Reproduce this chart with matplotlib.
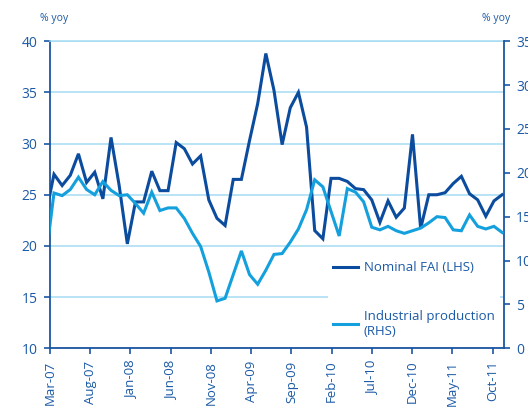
import numpy as np
import matplotlib
matplotlib.use("Agg")
import matplotlib.pyplot as plt
from matplotlib.lines import Line2D

plt.rcParams['font.family'] = ['Open Sans', 'DejaVu Sans']

# ---- data (Feb-07 .. Oct-11, monthly; Feb-07 lies just left of the axis) ----
fai = [23.1,
       27.0, 25.9, 26.9, 29.0, 26.2, 27.2, 24.6, 30.6, 25.9, 20.2,
       24.3, 24.3, 27.3, 25.4, 25.4, 30.1, 29.5, 28.0, 28.8, 24.5,
       22.7, 22.0, 26.5, 26.5, 30.3, 33.9, 38.8, 35.2, 29.9, 33.5,
       35.0, 31.6, 21.5, 20.7, 26.6, 26.6, 26.3, 25.6, 25.5, 24.5,
       22.3, 24.4, 22.8, 23.7, 30.9, 21.7, 25.0, 25.0, 25.2, 26.1,
       26.8, 25.1, 24.5, 22.9, 24.4, 25.0]
ip = [10.3,
      17.7, 17.4, 18.1, 19.5, 18.1, 17.5, 19.0, 18.0, 17.4, 17.5,
      16.5, 15.4, 17.8, 15.7, 16.0, 16.0, 14.8, 13.1, 11.6, 8.7,
      5.4, 5.7, 8.4, 11.1, 8.4, 7.3, 8.9, 10.7, 10.8, 12.1,
      13.6, 15.8, 19.2, 18.4, 15.6, 12.8, 18.2, 17.8, 16.7, 13.8,
      13.5, 13.9, 13.4, 13.1, 13.4, 13.7, 14.3, 15.0, 14.9, 13.5,
      13.4, 15.2, 13.9, 13.6, 13.9, 13.2]
tick_labels = ["Mar-07", "Aug-07", "Jan-08", "Jun-08", "Nov-08", "Apr-09",
               "Sep-09", "Feb-10", "Jul-10", "Dec-10", "May-11", "Oct-11"]
left_ticks = [10, 15, 20, 25, 30, 35, 40]
right_ticks = [0, 5, 10, 15, 20, 25, 30, 35]
fai_label = "Nominal FAI (LHS)"
ip_label = "Industrial production\n(RHS)"

# ---- styles ----
C_TEXT = '#1b5aa6'
C_AXIS = '#1b56a3'
C_DARK = '#0b4c9e'
C_LIGHT = '#14a0dd'
C_GRID = '#a6dbf2'
FS = 9.5

W, H = 528, 412
fig = plt.figure(figsize=(W / 100, H / 100), dpi=100)
x0, x1, ytop, ybot = 50, 503.5, 41.2, 348.3
ax = fig.add_axes([x0 / W, 1 - ybot / H, (x1 - x0) / W, (ybot - ytop) / H])
ax2 = ax.twinx()
axt = ax.twiny()

x = np.arange(len(fai)) - 1  # month index, Mar-07 = 0

ax.plot(x, fai, color=C_DARK, lw=2.2, solid_joinstyle='miter', zorder=3)
ax2.plot(x, ip, color=C_LIGHT, lw=2.2, solid_joinstyle='miter', zorder=3)

ax.set_xlim(-0.49, 55.17)
ax.set_ylim(10, 40)
ax2.set_ylim(0, 35)
ax.set_yticks(left_ticks)
ax2.set_yticks(right_ticks)

# category tick axis
axt.set_xlim(0.087, 56.35)
axt.set_xticks(np.arange(len(tick_labels)) * 5)
axt.set_xticklabels(tick_labels, rotation=90)
axt.xaxis.set_ticks_position('bottom')
axt.xaxis.set_label_position('bottom')
ax.set_xticks([])

ax.yaxis.grid(True, color=C_GRID, lw=1.1)
ax.set_axisbelow(True)

for a in (ax, ax2, axt):
    for s in a.spines.values():
        s.set_visible(False)
ax.spines['left'].set_visible(True)
ax.spines['left'].set_color(C_AXIS)
ax.spines['left'].set_linewidth(1.3)
ax.spines['bottom'].set_visible(True)
ax.spines['bottom'].set_color(C_AXIS)
ax.spines['bottom'].set_linewidth(1.3)
ax.spines['top'].set_visible(True)
ax.spines['top'].set_color(C_GRID)
ax.spines['top'].set_linewidth(1.1)
ax2.spines['right'].set_visible(True)
ax2.spines['right'].set_color(C_AXIS)
ax2.spines['right'].set_linewidth(1.3)

ax.tick_params(axis='y', direction='out', length=4, width=1.2, color=C_AXIS,
               labelcolor=C_TEXT, labelsize=10, pad=5)
ax2.tick_params(axis='y', direction='out', length=4, width=1.2, color=C_AXIS,
                labelcolor=C_TEXT, labelsize=10, pad=5)
axt.tick_params(axis='x', direction='out', length=4, width=1.2, color=C_AXIS,
                labelcolor=C_TEXT, labelsize=FS, pad=5)

fig.text(40 / W, 1 - 19 / H, "% yoy", color=C_TEXT, fontsize=7.5, va='center', ha='left')
fig.text(482 / W, 1 - 19 / H, "% yoy", color=C_TEXT, fontsize=7.5, va='center', ha='left')

handles = [Line2D([], [], color=C_DARK, lw=2.2), Line2D([], [], color=C_LIGHT, lw=2.2)]
leg = axt.legend(handles, [fai_label, ip_label], loc='upper left',
                 bbox_to_anchor=(0.613, 0.30), frameon=True, fontsize=FS,
                 handlelength=1.9, handletextpad=0.4, labelspacing=2.68,
                 borderpad=0.4, borderaxespad=0)
leg.get_frame().set_facecolor('white')
leg.get_frame().set_edgecolor('none')
leg.get_frame().set_alpha(1)
for t in leg.get_texts():
    t.set_color(C_TEXT)

fig.savefig('out.png', dpi=100)
